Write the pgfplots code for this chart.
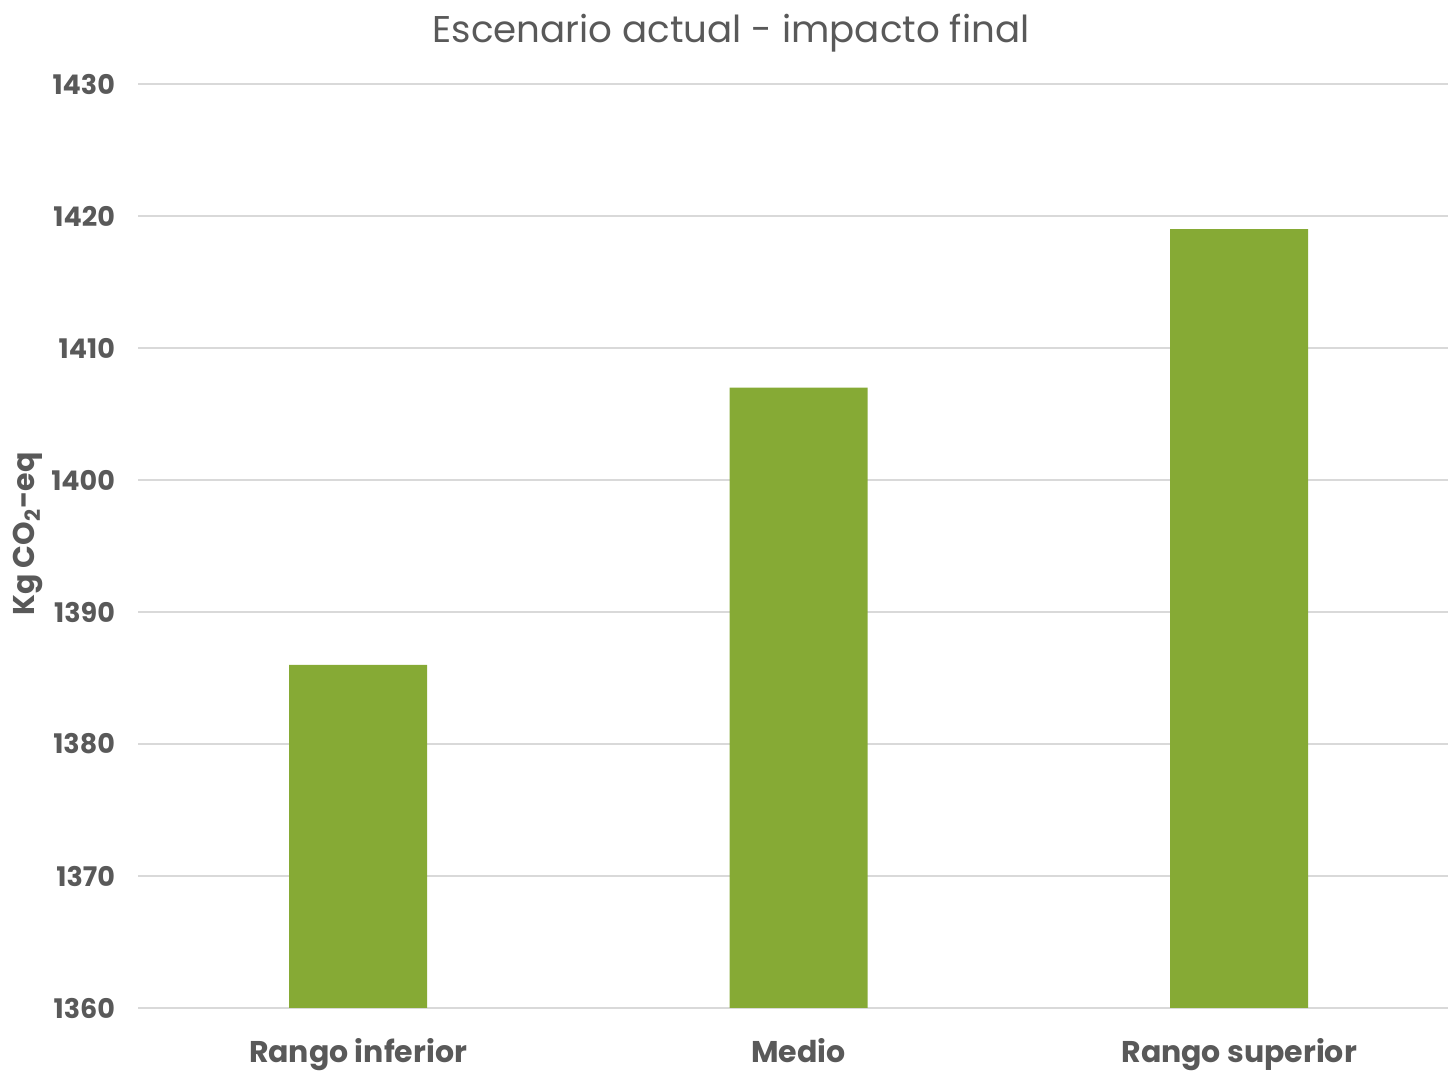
\documentclass[border=0pt]{standalone}
\usepackage{fontspec}
\setmainfont{Poppins}
\usepackage{pgfplots}
\pgfplotsset{compat=1.18}
\definecolor{txt}{HTML}{595959}
\definecolor{grd}{HTML}{D9D9D9}
\definecolor{bar}{HTML}{86AA35}
\begin{document}
\begin{tikzpicture}
\useasboundingbox (0,0) rectangle (724pt,536pt);
\begin{axis}[
  at={(69pt,32pt)}, anchor=south west,
  width=655pt, height=462pt, scale only axis,
  xmin=-0.4994, xmax=2.474,
  ymin=1360, ymax=1430,
  ytick={1360,1370,...,1430},
  xtick={0,1,2},
  xticklabels={Rango inferior, Medio, Rango superior},
  axis line style={draw=none},
  ymajorgrids, grid style={grd, line width=1pt},
  major tick length=0pt,
  /pgf/number format/assume math mode=true,
  /pgf/number format/set thousands separator={},
  tick label style={font=\fontsize{13.5}{16}\selectfont\bfseries, text=txt},
  yticklabel style={anchor=east, xshift=-8pt},
  xticklabel style={anchor=base, yshift=-27.5pt, font=\fontsize{15}{18}\selectfont\bfseries},
  ylabel={Kg CO\textsubscript{2}-eq},
  ylabel style={at={(axis description cs:-0.084,0.513)}, anchor=center, font=\fontsize{15}{17}\selectfont\bfseries, text=txt},
  ybar, bar width=69pt,
  clip=false,
]
\addplot[fill=bar, draw=none] coordinates {(0,1386) (1,1407) (2,1419)};
\end{axis}
\node[text=txt, font=\fontsize{18.6}{22}\selectfont, anchor=base] at (365.5pt,514.5pt) {Escenario actual - impacto final};
\end{tikzpicture}
\end{document}
